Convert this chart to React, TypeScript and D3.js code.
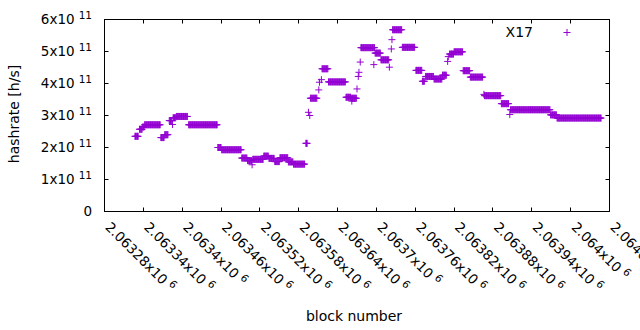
import React from 'react';
import * as d3 from 'd3';

// block offsets relative to BASE, hashrate values in units of 1e11 h/s
const BASE = 2063280;
const runStart = [47,54,59,62,87,93,100,106,111,130,175,181,212,221,229,246,254,263,271,284,292,311,318,336,346,373,381,396,418,427,445,460,481,491,496,509,522,533,540,554,565,587,613,627,689,699];
const runEnd = [52,58,61,86,92,98,104,110,128,174,180,211,220,227,245,253,262,270,283,291,309,313,328,345,372,380,389,417,426,439,459,479,490,494,508,521,528,539,553,564,584,612,624,688,698,767];
const runValue = [2.35,2.57,2.64,2.71,2.31,2.40,2.84,2.93,2.97,2.71,2.00,1.93,1.67,1.59,1.63,1.73,1.66,1.56,1.68,1.55,1.48,2.13,3.54,4.46,4.05,3.57,3.54,5.12,4.95,4.74,5.68,5.13,4.41,4.07,4.22,4.14,4.26,4.92,4.99,4.40,4.20,3.62,3.37,3.18,3.02,2.92];
const singleBlock = [105,228,315,317,331,332,335,382,390,392,393,395,416,440,443,444,530,531,586,626];
const singleValue = [2.72,1.46,3.10,3.00,3.80,4.04,4.12,3.45,3.83,4.22,4.35,4.67,4.59,4.51,5.08,5.37,4.69,4.84,3.66,3.03];
const UNIT = 1e11;

const xTickValues = [2063280,2063340,2063400,2063460,2063520,2063580,2063640,2063700,2063760,2063820,2063880,2063940,2064000,2064060];
const yTickValues = [0,1,2,3,4,5,6];
const seriesName = 'X17';

const COLOR = '#9400D3';
const FONT = '"DejaVu Sans", sans-serif';

export default function App() {
  const W = 640, H = 330;
  const L = 104.5, R = 609.5, T = 19.5, B = 211.5;
  const x = d3.scaleLinear().domain([2063280, 2064060]).range([L, R]);
  const y = d3.scaleLinear().domain([0, 6 * UNIT]).range([B, T]);

  const pts: { b: number; v: number }[] = [];
  runStart.forEach((s, i) => {
    for (let k = s; k <= runEnd[i]; k++) pts.push({ b: BASE + k, v: runValue[i] * UNIT });
  });
  singleBlock.forEach((s, i) => pts.push({ b: BASE + s, v: singleValue[i] * UNIT }));

  const hs = 3.5;
  const plusPath = (cx: number, cy: number) =>
    `M${cx - hs},${cy}H${cx + hs}M${cx},${cy - hs}V${cy + hs}`;
  const dataPath = pts.map(p => plusPath(x(p.b), y(p.v))).join('');

  const tick = 4;
  const fmtX = (v: number) => String(Number((v / 1e6).toFixed(5)));
  const px = (v: number) => Math.round(x(v) - 0.5) + 0.5;
  const py = (v: number) => Math.round(y(v) - 0.5) + 0.5;

  return (
    <svg width={W} height={H} style={{ position: 'absolute', left: 0, top: 0, background: '#fff' }} fontFamily={FONT}>
      <rect x={0} y={0} width={W} height={H} fill="#fff" />
      {/* ticks */}
      <g stroke="#000" strokeWidth={1}>
        {yTickValues.map(t => (
          <g key={'y' + t}>
            <line x1={L} x2={L + tick} y1={py(t * UNIT)} y2={py(t * UNIT)} />
            <line x1={R} x2={R - tick} y1={py(t * UNIT)} y2={py(t * UNIT)} />
          </g>
        ))}
        {xTickValues.map(t => (
          <g key={'x' + t}>
            <line x1={px(t)} x2={px(t)} y1={B} y2={B - tick} />
            <line x1={px(t)} x2={px(t)} y1={T} y2={T + tick} />
          </g>
        ))}
      </g>
      <rect x={L} y={T} width={R - L} height={B - T} fill="none" stroke="#000" strokeWidth={1} />
      {/* y tick labels */}
      {yTickValues.map(t => (
        <text key={'yl' + t} x={92} y={y(t * UNIT) + 4} textAnchor="end" fontSize={13.5} fill="#000">
          {t === 0 ? '0' : (
            <>
              <tspan>{t}x10</tspan>
              <tspan dx={4} dy={-5} fontSize={10.5}>11</tspan>
            </>
          )}
        </text>
      ))}
      {/* x tick labels */}
      {xTickValues.map(t => (
        <text key={'xl' + t} transform={`translate(${x(t)},${228}) rotate(45)`} textAnchor="start" fontSize={13.5} fill="#000">
          <tspan>{fmtX(t)}x10</tspan>
          <tspan dx={4} dy={-5} fontSize={10.5}>6</tspan>
        </text>
      ))}
      {/* axis labels */}
      <text transform="translate(19,114) rotate(-90)" textAnchor="middle" fontSize={14} fill="#000">hashrate [h/s]</text>
      <text x={354} y={320.5} textAnchor="middle" fontSize={14} fill="#000">block number</text>
      {/* data */}
      <path d={dataPath} stroke={COLOR} strokeWidth={1} fill="none" />
      {/* legend */}
      <text x={533} y={36.5} textAnchor="end" fontSize={14} fill="#000">{seriesName}</text>
      <path d={plusPath(567, 32.5)} stroke={COLOR} strokeWidth={1} fill="none" />
    </svg>
  );
}
